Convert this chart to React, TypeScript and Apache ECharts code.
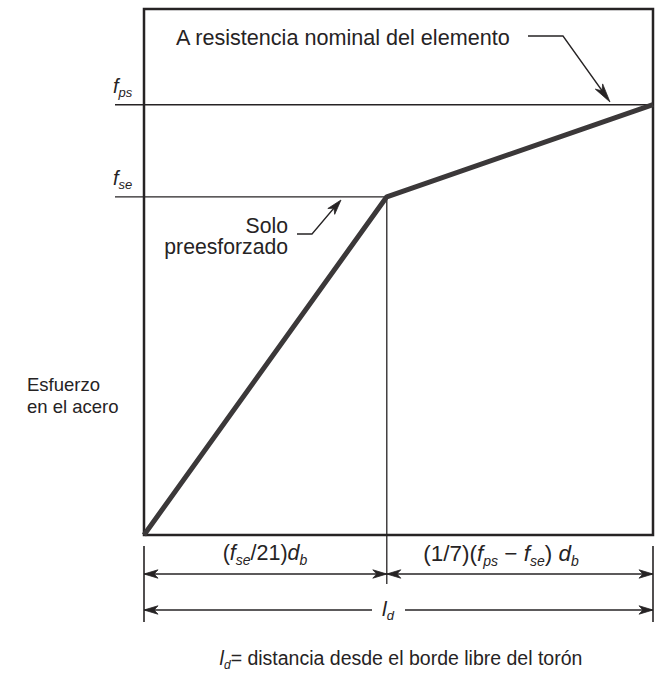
import React, { useEffect, useRef } from "react";
import * as echarts from "echarts";

// Development length (% of box width) and steel stress (% of box height)
const lengthPoints = [0, 47.7, 100];
const stressPoints = [0, 64.3, 81.8];
const levelNames = ["ps", "se"];
const levelValues = [81.8, 64.3];
const levelLineEnds = [100, 47.7];

const FONT = "'Liberation Sans', Arial, Helvetica, sans-serif";
const INK = "#262324";

function makeRich(size: number) {
  const sub = Math.round(size * 0.64);
  const lh = Math.round(size * 1.3);
  return {
    r: { fontSize: size, fontFamily: FONT, fill: INK, lineHeight: lh, verticalAlign: "middle" },
    i: { fontSize: size, fontFamily: FONT, fontStyle: "italic", fill: INK, lineHeight: lh, verticalAlign: "middle" },
    s: { fontSize: sub, fontFamily: FONT, fontStyle: "italic", fill: INK, lineHeight: sub, verticalAlign: "bottom" },
  };
}

function arrowHead(tx: number, ty: number, dx: number, dy: number, len = 14, half = 4.2) {
  const L = Math.hypot(dx, dy);
  const ux = dx / L, uy = dy / L;
  const px = -uy, py = ux;
  const bx = tx - ux * len, by = ty - uy * len;
  const nx = tx - ux * len * 0.72, ny = ty - uy * len * 0.72;
  return {
    type: "polygon",
    silent: true,
    shape: { points: [[tx, ty], [bx + px * half, by + py * half], [nx, ny], [bx - px * half, by - py * half]] },
    style: { fill: INK, stroke: INK, lineWidth: 0.8 },
  };
}

function line(x1: number, y1: number, x2: number, y2: number, w = 1.3) {
  return { type: "line", silent: true, shape: { x1, y1, x2, y2 }, style: { stroke: INK, lineWidth: w } };
}

function rtxt(x: number, y: number, text: string, size: number, align = "center") {
  return {
    type: "text",
    silent: true,
    x, y,
    style: { text, align, verticalAlign: "middle", fill: INK, fontSize: size, fontFamily: FONT, rich: makeRich(size) },
  };
}

function ptxt(x: number, y: number, text: string, size: number, align: string, lineHeight: number) {
  return {
    type: "text",
    silent: true,
    x, y,
    style: { text, align, verticalAlign: "middle", lineHeight, fill: INK, fontSize: size, fontFamily: FONT },
  };
}

export default function App() {
  const ref = useRef<HTMLDivElement>(null);
  useEffect(() => {
    const el = ref.current!;
    const chart = echarts.init(el, null, { renderer: "svg" });
    chart.setOption({
      animation: false,
      grid: { left: 144, top: 9, right: 8, bottom: 154, show: true, borderColor: INK, borderWidth: 2.5, backgroundColor: "transparent" },
      xAxis: { type: "value", min: 0, max: 100, show: false },
      yAxis: { type: "value", min: 0, max: 100, show: false },
      series: [
        {
          type: "line",
          data: lengthPoints.map((x, i) => [x, stressPoints[i]]),
          symbol: "none",
          silent: true,
          lineStyle: { width: 5, color: "#3b3839" },
        },
      ],
    });

    const P = (x: number, y: number) => chart.convertToPixel({ gridIndex: 0 }, [x, y]) as number[];
    const [x0] = P(0, 0);
    const [xk, yk] = P(lengthPoints[1], stressPoints[1]);
    const [xe] = P(100, 0);
    const labelStart = 115;

    const g: any[] = [];
    // stress level lines + labels
    levelValues.forEach((v, i) => {
      const [xr, yy] = P(levelLineEnds[i], v);
      g.push(line(labelStart, yy, xr, yy, 1.3));
      g.push(rtxt(labelStart - 2, yy - 19, `{i|f}{s|${levelNames[i]}}`, 20, "left"));
    });
    // vertical at kink
    g.push(line(xk, yk, xk, 584, 1.3));

    // title + leader
    g.push(ptxt(176, 37, "A resistencia nominal del elemento", 21.6, "left", 24));
    g.push({ type: "polyline", silent: true, shape: { points: [[528, 36], [563, 36], [603, 92]] }, style: { stroke: INK, lineWidth: 1.3, fill: null } });
    g.push(arrowHead(610, 102, 47, 66, 19, 4.5));

    // Solo preesforzado + leader
    g.push(ptxt(288, 236, "Solo\npreesforzado", 21.2, "right", 21));
    g.push({ type: "polyline", silent: true, shape: { points: [[297, 234], [312, 234], [334, 208]] }, style: { stroke: INK, lineWidth: 1.3, fill: null } });
    g.push(arrowHead(341, 200, 29, -34, 15, 4.5));

    // Esfuerzo en el acero
    g.push(ptxt(27, 395, "Esfuerzo\nen el acero", 18.5, "left", 22));

    // dimension lines
    const e1 = 546, e2 = 622, r1 = 574, r2 = 610;
    g.push(line(x0, e1, x0, e2, 1.6));
    g.push(line(xe, e1, xe, e2, 1.6));
    g.push(line(x0, r1, xk, r1, 1.3));
    g.push(line(xk, r1, xe, r1, 1.3));
    g.push(arrowHead(x0, r1, -1, 0));
    g.push(arrowHead(xk, r1, 1, 0));
    g.push(arrowHead(xk, r1, -1, 0));
    g.push(arrowHead(xe, r1, 1, 0));
    g.push(line(x0, r2, 372, r2, 1.3));
    g.push(line(405, r2, xe, r2, 1.3));
    g.push(arrowHead(x0, r2, -1, 0));
    g.push(arrowHead(xe, r2, 1, 0));

    g.push(rtxt(265, 553, "{r|(}{i|f}{s|se}{r|/21)}{i|d}{s|b}", 21.5));
    g.push(rtxt(501, 553, "{r|(1/7)(}{i|f}{s|ps}{r| − }{i|f}{s|se}{r|) }{i|d}{s|b}", 22.5));
    g.push(rtxt(388, 608, "{i|l}{s|d}", 21));
    g.push(rtxt(401, 658, "{i|l}{s|d}{r|= distancia desde el borde libre del torón}", 19.5));

    chart.setOption({ graphic: { elements: g } });
    return () => chart.dispose();
  }, []);
  return <div ref={ref} style={{ position: "absolute", left: 0, top: 0, width: 661, height: 689 }} />;
}
